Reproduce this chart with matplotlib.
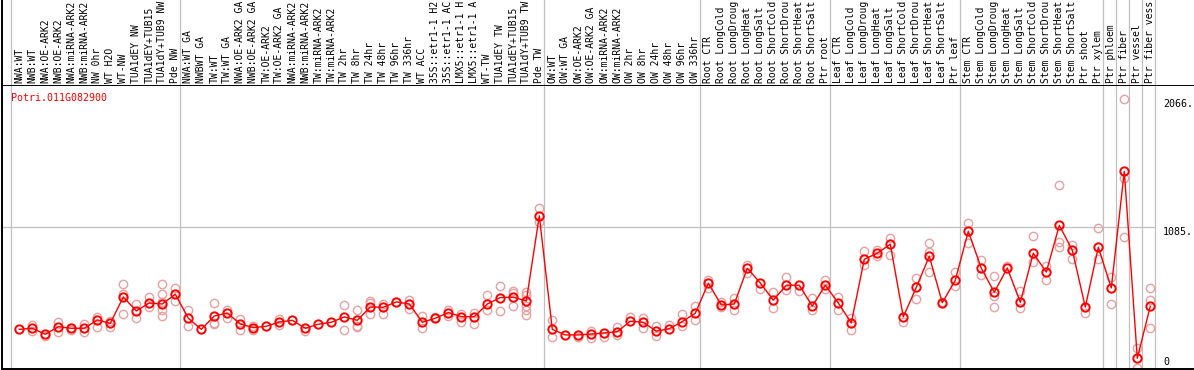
import matplotlib
matplotlib.use("Agg")
import matplotlib.pyplot as plt

gene = "Potri.011G082900"

labels = [
    "NWA:WT", "NWB:WT", "NWA:OE-ARK2", "NWB:OE-ARK2", "NWA:miRNA-ARK2", "NWB:miRNA-ARK2",
    "NW 0hr", "WT H2O", "WT-NW", "TUA1dEY NW", "TUA1dEY+TUB15 NW", "TUA1dY+TUB9 NW", "Pde NW",
    "NWA:WT GA", "NWBWT GA", "TW:WT", "TW:WT GA", "NWA:OE-ARK2 GA", "NWB:OE-ARK2 GA",
    "TW:OE-ARK2", "TW:OE-ARK2 GA", "NWA:miRNA-ARK2", "NWB:miRNA-ARK2", "TW:miRNA-ARK2",
    "TW:miRNA-ARK2", "TW 2hr", "TW 8hr", "TW 24hr", "TW 48hr", "TW 96hr", "TW 336hr", "WT ACC",
    "35S::etr1-1 H2O", "35S::etr1-1 ACC", "LMX5::etr1-1 H2O", "LMX5::etr1-1 ACC", "WT-TW",
    "TUA1dEY TW", "TUA1dEY+TUB15 TW", "TUA1dY+TUB9 TW", "Pde TW",
    "OW:WT", "OW:WT GA", "OW:OE-ARK2", "OW:OE-ARK2 GA", "OW:miRNA-ARK2", "OW:miRNA-ARK2",
    "OW 2hr", "OW 8hr", "OW 24hr", "OW 48hr", "OW 96hr", "OW 336hr",
    "Root CTR", "Root LongCold", "Root LongDrought", "Root LongHeat", "Root LongSalt",
    "Root ShortCold", "Root ShortDrought", "Root ShortHeat", "Root ShortSalt", "Ptr root",
    "Leaf CTR", "Leaf LongCold", "Leaf LongDrought", "Leaf LongHeat", "Leaf LongSalt",
    "Leaf ShortCold", "Leaf ShortDrought", "Leaf ShortHeat", "Leaf ShortSalt", "Ptr leaf",
    "Stem CTR", "Stem LongCold", "Stem LongDrought", "Stem LongHeat", "Stem LongSalt",
    "Stem ShortCold", "Stem ShortDrought", "Stem ShortHeat", "Stem ShortSalt", "Ptr shoot",
    "Ptr xylem", "Ptr phloem", "Ptr fiber", "Ptr vessel", "Ptr fiber vessel",
]

means = [
    300, 308, 262, 320, 308, 308, 372, 346, 548, 441, 502, 494, 569,
    385, 300, 402, 425, 341, 313, 323, 356, 369, 308, 339, 354, 395, 369, 471, 469,
    510, 494, 354, 385, 428, 397, 397, 494, 543, 546, 517, 1169,
    300, 257, 257, 264, 272, 282, 362, 354, 285, 305, 359, 423,
    653, 487, 494, 768, 655, 523, 638, 638, 477, 638,
    502, 349, 837, 883, 952, 395, 622, 860, 504, 676,
    1051, 768, 584, 770, 507, 883, 739, 1097, 906, 471, 929,
    617, 1511, 78, 477,
]

replicates = [
    [], [336, 285], [251], [359, 282], [313, 297], [343, 277], [397, 320], [366, 320],
    [645, 571, 415], [492, 389], [548, 471], [645, 569, 507, 451, 405], [615, 517],
    [446, 323], [], [500, 349, 339], [451, 389], [379, 293], [328, 293], [], [379, 333], [],
    [287], [], [], [484, 293], [448, 328, 318], [515, 502, 415], [497, 415], [512],
    [527, 456], [405, 308], [395], [451, 400], [420, 359], [425, 343], [563, 446],
    [630, 441], [596, 579, 477], [589, 563, 481, 451, 412], [1230, 1120],
    [369, 241], [], [241], [290, 231], [241], [316, 257], [392], [389, 308], [328, 251],
    [333], [418, 328], [479, 369],
    [680, 619], [507, 469], [540, 448], [793, 732], [609], [589, 461], [701, 599], [594],
    [540, 451], [680, 609],
    [548, 446], [385, 293], [900, 793], [910, 860], [1002, 872], [359], [691, 533],
    [962, 890, 737], [512], [737, 630],
    [1115, 962], [829, 716], [706, 553, 469], [788], [596, 461], [1013, 818], [788, 676],
    [1404, 967, 929], [949, 839], [423], [1077, 839],
    [699, 494], [2066, 1457, 1005], [159, 2], [615, 525, 308],
]

# column index after which a group separator is drawn (-1 = left edge)
group_ends = [-1, 12, 40, 52, 62, 72, 83, 84, 85, 86, 87]
y_ticks = [2066, 1085, 0]

W, H = 1194, 370
fig = plt.figure(figsize=(W / 100, H / 100), dpi=100)
mono = "DejaVu Sans Mono"
grid_c = "#c0c0c0"
xlim = ((2 - 19.3) / 13, (W - 19.3) / 13)

ax = fig.add_axes([2 / W, 1 / H, (W - 2) / W, 284 / H])
top = fig.add_axes([2 / W, 285 / H, (W - 2) / W, 85 / H])

x = list(range(len(labels)))

for k in group_ends:
    ax.axvline(k + 0.36, color=grid_c, lw=0.9, zorder=0)
    top.axvline(k + 0.36, color=grid_c, lw=0.9, zorder=0)
ax.hlines(y_ticks[1], xlim[0], 87.36, color=grid_c, lw=0.9, zorder=0)

rx = [i for i, r in enumerate(replicates) for _ in r]
ry = [v for r in replicates for v in r]
ax.plot(rx, ry, "o", ms=6, mfc="none", mec="#e8a0a0", mew=1.0, zorder=2)
ax.plot(x, means, "-", color="red", lw=1.0, marker="o", ms=6, mfc="none",
        mec="red", mew=1.4, zorder=3)

ax.set_xlim(*xlim)
ax.set_ylim(-4, 2172)
ax.set_xticks([])
ax.set_yticks([])
ax.spines["right"].set_visible(False)
for s in ["left", "top", "bottom"]:
    ax.spines[s].set_linewidth(1.4)

ax.text(9 / (W - 2), 1 - 12.7 / 284, gene, transform=ax.transAxes, color="red",
        family=mono, fontsize=7.2, ha="left", va="center")
xr = (1163 - 2) / (W - 2)
ax.text(xr, y_ticks[0], "2066.", transform=ax.get_yaxis_transform(), family=mono,
        fontsize=7.2, ha="left", va="top")
ax.text(xr, y_ticks[1], "1085.", transform=ax.get_yaxis_transform(), family=mono,
        fontsize=7.2, ha="left", va="top")
ax.text(xr, 15, "0", transform=ax.get_yaxis_transform(), family=mono,
        fontsize=7.2, ha="left", va="bottom")

top.set_xlim(*xlim)
top.set_ylim(0, 85)
top.set_xticks([])
top.set_yticks([])
for s in ["right", "top", "bottom"]:
    top.spines[s].set_visible(False)
top.spines["left"].set_linewidth(1.4)
# the sample names are cut to 14 characters, as in the original chart
for i, lab in enumerate(labels):
    top.text(i, 2, lab[:14].rstrip(), rotation=90, ha="center", va="bottom",
             family=mono, fontsize=7.0, clip_on=False)

fig.savefig("out.png", dpi=100)
